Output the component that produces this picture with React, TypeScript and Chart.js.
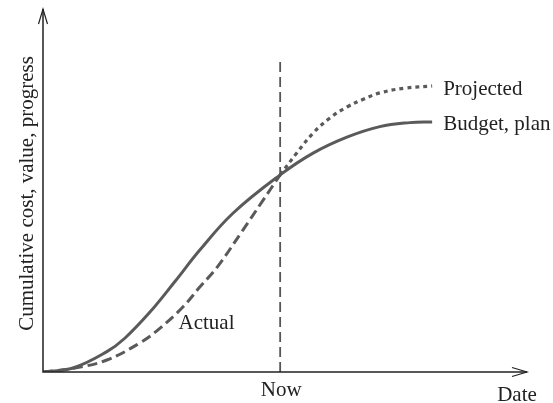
import React, { useEffect, useRef } from "react";
import { Chart, registerables } from "chart.js";

Chart.register(...registerables);

// Budget, plan (solid)
const budgetX = [0, 6.2, 13.2, 16.9, 22.1, 27.3, 32.4, 39.3, 49.0, 55.8, 62.8, 69.6, 75.8, 80.4];
const budgetY = [0, 1.1, 5.6, 9.3, 16.5, 25.0, 33.6, 43.8, 54.3, 60.3, 64.7, 67.6, 68.7, 68.9];

// Actual (dashed)
const actualX = [0, 6.6, 13.2, 20.0, 24.2, 28.9, 32.4, 36.0, 41.3, 45.2, 49.0];
const actualY = [0, 1.1, 3.3, 8.0, 12.1, 17.9, 23.4, 28.9, 39.1, 46.8, 54.3];

// Projected (dotted)
const projectedX = [49.0, 52.3, 55.8, 59.3, 62.8, 66.3, 69.6, 74.8, 80.4];
const projectedY = [54.3, 60.1, 65.8, 70.0, 73.0, 75.2, 76.9, 78.2, 78.8];

// "Now" marker
const nowX = 49.0;
const nowLineY = [0, 85.7];

const labels = {
  projected: "Projected",
  budget: "Budget, plan",
  actual: "Actual",
  now: "Now",
  xTitle: "Date",
  yTitle: "Cumulative cost, value, progress",
};

const FONT = '21px "Liberation Serif", "DejaVu Serif", serif';
const LINE = "#5a5a5a";
const TEXT = "#222";

const zip = (xs: number[], ys: number[]) => xs.map((x, i) => ({ x, y: ys[i] }));

const annotations = {
  id: "annotations",
  afterDraw(chart: any) {
    const { ctx, chartArea, scales } = chart;
    const xs = scales.x;
    const ys = scales.y;
    const { left, right, top, bottom } = chartArea;
    ctx.save();
    // axes
    ctx.strokeStyle = "#222";
    ctx.lineWidth = 1.5;
    ctx.setLineDash([]);
    ctx.beginPath();
    ctx.moveTo(left, top);
    ctx.lineTo(left, bottom);
    ctx.lineTo(right, bottom);
    ctx.stroke();
    // arrow heads
    ctx.lineWidth = 1.2;
    ctx.beginPath();
    ctx.moveTo(left - 4.5, top + 15);
    ctx.lineTo(left, top);
    ctx.lineTo(left + 4.5, top + 15);
    ctx.moveTo(right - 15, bottom - 4.5);
    ctx.lineTo(right, bottom);
    ctx.lineTo(right - 15, bottom + 4.5);
    ctx.stroke();

    ctx.fillStyle = TEXT;
    ctx.font = FONT;
    ctx.textBaseline = "alphabetic";
    // end labels
    const pEndX = xs.getPixelForValue(projectedX[projectedX.length - 1]);
    const pEndY = ys.getPixelForValue(projectedY[projectedY.length - 1]);
    ctx.textAlign = "left";
    ctx.fillText(labels.projected, pEndX + 11, pEndY + 9);
    const bEndX = xs.getPixelForValue(budgetX[budgetX.length - 1]);
    const bEndY = ys.getPixelForValue(budgetY[budgetY.length - 1]);
    ctx.fillText(labels.budget, bEndX + 11, bEndY + 8);
    // Actual label
    ctx.fillText(labels.actual, xs.getPixelForValue(28.0), ys.getPixelForValue(11.8));
    // Now
    ctx.textAlign = "center";
    ctx.fillText(labels.now, xs.getPixelForValue(nowX) + 1, bottom + 24);
    // Date
    ctx.fillText(labels.xTitle, right - 10, bottom + 29);
    // Y title
    ctx.translate(33, (top + bottom) / 2 + 3);
    ctx.rotate(-Math.PI / 2);
    ctx.textAlign = "center";
    ctx.fillText(labels.yTitle, 0, 0);
    ctx.restore();
  },
};

export default function App() {
  const ref = useRef<HTMLCanvasElement | null>(null);
  useEffect(() => {
    document.body.style.margin = "0";
    const chart = new Chart(ref.current as HTMLCanvasElement, {
      type: "line",
      data: {
        datasets: [
          {
            label: labels.now,
            data: nowLineY.map((y) => ({ x: nowX, y })),
            borderColor: "#555",
            borderWidth: 1.8,
            borderDash: [10, 5],
            pointRadius: 0,
            tension: 0,
          },
          {
            label: labels.actual,
            data: zip(actualX, actualY),
            borderColor: LINE,
            borderWidth: 3,
            borderDash: [10, 5],
            pointRadius: 0,
            tension: 0.4,
          },
          {
            label: labels.projected,
            data: zip(projectedX, projectedY),
            borderColor: LINE,
            borderWidth: 3.2,
            borderDash: [4, 4],
            pointRadius: 0,
            tension: 0.4,
          },
          {
            label: labels.budget,
            data: zip(budgetX, budgetY),
            borderColor: LINE,
            borderWidth: 3,
            pointRadius: 0,
            tension: 0.4,
          },
        ],
      },
      options: {
        animation: false,
        responsive: true,
        maintainAspectRatio: false,
        layout: { padding: { left: 43, right: 26, top: 9, bottom: 31 } },
        plugins: { legend: { display: false }, tooltip: { enabled: false } },
        scales: {
          x: { type: "linear", min: 0, max: 100, display: false },
          y: { type: "linear", min: 0, max: 100, display: false },
        },
      },
      plugins: [annotations],
    });
    return () => chart.destroy();
  }, []);
  return (
    <div style={{ position: "fixed", left: 0, top: 0, width: 553, height: 403, background: "#fff" }}>
      <canvas ref={ref} />
    </div>
  );
}
